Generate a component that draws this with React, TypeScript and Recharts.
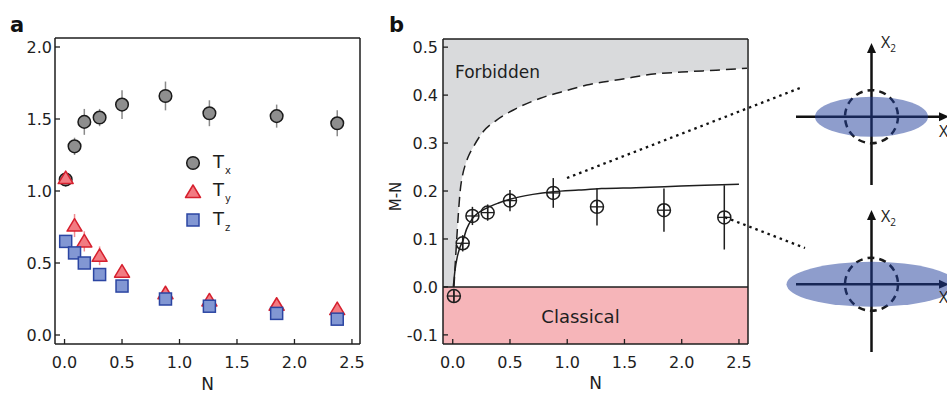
import {
  ComposedChart,
  Scatter,
  Line,
  Area,
  XAxis,
  YAxis,
  ErrorBar,
  ReferenceArea,
  ReferenceLine,
  ReferenceDot,
  Legend,
  Label,
} from "recharts"

const FONT = '"DejaVu Sans", "Liberation Sans", Arial, sans-serif'
const INK = "#1e1e1e"

// mean photon number N, same points in both panels
const N_VALUES = [0.01, 0.087, 0.172, 0.305, 0.5, 0.878, 1.26, 1.845, 2.372]

// panel a: temperatures
const TX = [1.08, 1.31, 1.48, 1.51, 1.6, 1.66, 1.54, 1.52, 1.47]
const TX_ERR = [0.05, 0.06, 0.09, 0.06, 0.1, 0.1, 0.09, 0.08, 0.09]
const TY = [1.09, 0.76, 0.65, 0.55, 0.44, 0.29, 0.24, 0.21, 0.18]
const TY_ERR = [0.03, 0.08, 0.07, 0.065, 0.045, 0.03, 0.02, 0.02, 0.02]
const TZ = [0.65, 0.57, 0.5, 0.42, 0.34, 0.25, 0.2, 0.15, 0.11]
const TZ_ERR = [0.02, 0.02, 0.02, 0.02, 0.02, 0.02, 0.015, 0.015, 0.015]

const X_TICKS = [0, 0.5, 1, 1.5, 2, 2.5]
const A_Y_TICKS = [0, 0.5, 1, 1.5, 2]
const A_X_DOMAIN = [-0.083, 2.57]
const A_Y_DOMAIN = [-0.0625, 2.0625]

// panel b: squeezing M-N
const MN = [-0.019, 0.091, 0.148, 0.155, 0.18, 0.196, 0.167, 0.16, 0.145]
const MN_ERR = [0.012, 0.017, 0.019, 0.017, 0.022, 0.031, 0.039, 0.045, 0.067]

// theory curve (solid line)
const FIT_N = [0.005, 0.02, 0.04, 0.065, 0.09, 0.12, 0.17, 0.21, 0.3, 0.4, 0.5, 0.7, 0.88, 1.1, 1.3, 1.6, 1.85, 2.2, 2.5]
const FIT_MN = [0, 0.035, 0.063, 0.084, 0.097, 0.12, 0.142, 0.152, 0.165, 0.175, 0.183, 0.193, 0.1985, 0.202, 0.205, 0.207, 0.209, 0.212, 0.214]

// forbidden region boundary (dashed line)
const BOUND_N = [0.011, 0.02, 0.035, 0.05, 0.065, 0.085, 0.11, 0.14, 0.18, 0.267, 0.384, 0.53, 0.76, 1.0, 1.17, 1.5, 1.69, 2.0, 2.3, 2.57]
const BOUND_MN = [0, 0.04, 0.1, 0.155, 0.2, 0.232, 0.255, 0.274, 0.292, 0.324, 0.348, 0.369, 0.393, 0.41, 0.421, 0.434, 0.442, 0.448, 0.452, 0.456]

const B_Y_TICKS = [-0.1, 0, 0.1, 0.2, 0.3, 0.4, 0.5]
const B_X_DOMAIN = [-0.085, 2.579]
const B_Y_DOMAIN = [-0.119, 0.517]

const toPoints = (ys: number[], errs: number[]) => N_VALUES.map((n, i) => ({ n, v: ys[i], e: errs[i] }))
const toCurve = (ns: number[], ys: number[]) => ns.map((n, i) => ({ n, v: ys[i] }))

const txData = toPoints(TX, TX_ERR)
const tyData = toPoints(TY, TY_ERR)
const tzData = toPoints(TZ, TZ_ERR)
const mnData = toPoints(MN, MN_ERR)
const fitData = toCurve(FIT_N, FIT_MN)
const boundData = toCurve(BOUND_N, BOUND_MN)
// fill reaches the left edge at M-N = 0 before the boundary starts
const forbiddenFill = [{ n: B_X_DOMAIN[0], v: 0 }, ...boundData]

const AXIS_LINE = { stroke: INK, strokeWidth: 1.5 }
const TICK_LINE = { stroke: INK, strokeWidth: 1.3 }
const TICK_TEXT = { fill: INK, fontSize: 16 }
const fmt = (v: number) => v.toFixed(1)

const circleMark = (cx: number, cy: number) => (
  <circle cx={cx} cy={cy} r={6.3} fill="#8e8e8e" stroke="#1a1a1a" strokeWidth={1.5} />
)
const triMark = (cx: number, cy: number) => (
  <polygon
    points={`${cx},${cy - 7} ${cx - 7.5},${cy + 5.5} ${cx + 7.5},${cy + 5.5}`}
    fill="#f27b82"
    stroke="#d6202e"
    strokeWidth={1.5}
    strokeLinejoin="round"
  />
)
const squareMark = (cx: number, cy: number) => (
  <rect x={cx - 6} y={cy - 6} width={12} height={12} fill="#8297d3" stroke="#2b45a2" strokeWidth={1.5} />
)
const crossCircle = (cx: number, cy: number) => (
  <g>
    <circle cx={cx} cy={cy} r={6.5} fill="none" stroke={INK} strokeWidth={1.5} />
    <line x1={cx - 6.5} x2={cx + 6.5} y1={cy} y2={cy} stroke={INK} strokeWidth={1.3} />
    <line x1={cx} x2={cx} y1={cy - 6.5} y2={cy + 6.5} stroke={INK} strokeWidth={1.3} />
  </g>
)

const LEGEND_ROWS = [
  { sub: "x", icon: circleMark },
  { sub: "y", icon: triMark },
  { sub: "z", icon: squareMark },
]

function TLegend() {
  return (
    <div style={{ fontFamily: FONT, color: INK }}>
      {LEGEND_ROWS.map((row) => (
        <div key={row.sub} style={{ display: "flex", alignItems: "center", height: 28.5 }}>
          <svg width={18} height={18}>{row.icon(9, 9)}</svg>
          <span style={{ marginLeft: 11, fontSize: 18, lineHeight: "18px" }}>
            T<span style={{ fontSize: 10, position: "relative", top: 6, marginLeft: 1 }}>{row.sub}</span>
          </span>
        </div>
      ))}
    </div>
  )
}

function PanelA() {
  return (
    <ComposedChart width={380} height={394} margin={{ top: 37, right: 19, bottom: 0, left: 10 }}>
      <XAxis
        dataKey="n" type="number" domain={A_X_DOMAIN} ticks={X_TICKS} allowDataOverflow interval={0}
        tickFormatter={fmt} height={50} tickSize={-5} tickMargin={18}
        axisLine={AXIS_LINE} tickLine={TICK_LINE} tick={TICK_TEXT}
      >
        <Label value="N" position="insideBottom" offset={4} fill={INK} fontSize={17} />
      </XAxis>
      <XAxis
        xAxisId="top" orientation="top" type="number" domain={A_X_DOMAIN} ticks={X_TICKS} allowDataOverflow
        interval={0} height={1} tickSize={-5} tick={false} axisLine={AXIS_LINE} tickLine={TICK_LINE}
      />
      <YAxis
        dataKey="v" type="number" domain={A_Y_DOMAIN} ticks={A_Y_TICKS} allowDataOverflow interval={0}
        tickFormatter={fmt} width={45} tickSize={-5} tickMargin={8}
        axisLine={AXIS_LINE} tickLine={TICK_LINE} tick={TICK_TEXT}
      />
      <YAxis
        yAxisId="right" orientation="right" type="number" domain={A_Y_DOMAIN} ticks={A_Y_TICKS} allowDataOverflow
        interval={0} width={1} tickSize={-5} tick={false} axisLine={AXIS_LINE} tickLine={TICK_LINE}
      />
      <Legend
        layout="vertical" align="center" verticalAlign="middle" content={TLegend}
        wrapperStyle={{ left: 184, top: 149, width: "auto" }}
      />
      <Scatter data={txData} shape={(p: any) => circleMark(p.cx, p.cy)} isAnimationActive={false}>
        <ErrorBar dataKey="e" direction="y" width={0} stroke="#8a8a8a" strokeWidth={1.5} />
      </Scatter>
      <Scatter data={tyData} shape={(p: any) => triMark(p.cx, p.cy)} isAnimationActive={false}>
        <ErrorBar dataKey="e" direction="y" width={0} stroke="#f08a8f" strokeWidth={1.5} />
      </Scatter>
      <Scatter data={tzData} shape={(p: any) => squareMark(p.cx, p.cy)} isAnimationActive={false}>
        <ErrorBar dataKey="e" direction="y" width={0} stroke="#8a9ad3" strokeWidth={1.5} />
      </Scatter>
    </ComposedChart>
  )
}

function PanelB() {
  return (
    <ComposedChart width={380} height={394} margin={{ top: 38, right: 11, bottom: 0, left: 18 }}>
      <XAxis
        dataKey="n" type="number" domain={B_X_DOMAIN} ticks={X_TICKS} allowDataOverflow interval={0}
        tickFormatter={fmt} height={50} tickSize={-5} tickMargin={18}
        axisLine={AXIS_LINE} tickLine={TICK_LINE} tick={TICK_TEXT}
      >
        <Label value="N" position="insideBottom" offset={5} fill={INK} fontSize={17} />
      </XAxis>
      <XAxis
        xAxisId="top" orientation="top" type="number" domain={B_X_DOMAIN} ticks={X_TICKS} allowDataOverflow
        interval={0} height={1} tickSize={-5} tick={false} axisLine={AXIS_LINE} tickLine={TICK_LINE}
      />
      <YAxis
        dataKey="v" type="number" domain={B_Y_DOMAIN} ticks={B_Y_TICKS} allowDataOverflow interval={0}
        tickFormatter={fmt} width={45} tickSize={-5} tickMargin={10}
        axisLine={AXIS_LINE} tickLine={TICK_LINE} tick={TICK_TEXT}
      >
        <Label value="M-N" angle={-90} position="center" dx={-24.5} dy={5} fill={INK} fontSize={15} />
      </YAxis>
      <YAxis
        yAxisId="right" orientation="right" type="number" domain={B_Y_DOMAIN} ticks={B_Y_TICKS} allowDataOverflow
        interval={0} width={1} tickSize={-5} tick={false} axisLine={AXIS_LINE} tickLine={TICK_LINE}
      />
      <Area
        data={forbiddenFill} dataKey="v" type="monotone" baseValue={B_Y_DOMAIN[1]}
        fill="#d9dadc" fillOpacity={1} stroke="none" isAnimationActive={false}
      />
      <ReferenceArea
        y1={B_Y_DOMAIN[0]} y2={0} fill="#f6b5b9" fillOpacity={1} stroke="none"
        label={{ value: "Classical", position: "center", dx: -15, dy: 1, fill: INK, fontSize: 18 }}
      />
      <ReferenceLine y={0} stroke={INK} strokeWidth={1.5} />
      <ReferenceDot
        x={0.02} y={0.4485} r={0} stroke="none"
        label={{ value: "Forbidden", position: "right", offset: 0, fill: INK, fontSize: 17 }}
      />
      <Line
        data={boundData} dataKey="v" type="monotone" stroke={INK} strokeWidth={1.5}
        strokeDasharray="10 6" dot={false} isAnimationActive={false}
      />
      <Line
        data={fitData} dataKey="v" type="monotone" stroke={INK} strokeWidth={1.5}
        dot={false} isAnimationActive={false}
      />
      <Scatter data={mnData} shape={(p: any) => crossCircle(p.cx, p.cy)} isAnimationActive={false}>
        <ErrorBar dataKey="e" direction="y" width={0} stroke={INK} strokeWidth={1.5} />
      </Scatter>
    </ComposedChart>
  )
}

// phase-space sketches to the right of panel b
const SKETCH_CX = 871.5
const SKETCHES = [
  { cy: 116.7, rx: 56.5, ry: 20, top: 43, bottom: 185, x2Base: 48.3, x1Base: 136.7 },
  { cy: 284.3, rx: 85, ry: 22.5, top: 210, bottom: 352, x2Base: 222, x1Base: 303.3 },
]
const DOTTED = [
  [567, 178, 800, 88],
  [725, 217.3, 805, 248],
]

function Sketches() {
  const cx = SKETCH_CX
  return (
    <svg
      width={947}
      height={394}
      style={{ position: "absolute", left: 0, top: 0, pointerEvents: "none" }}
    >
      <text x={10} y={32} fontFamily={FONT} fontWeight="bold" fontSize={21} fill="#111">a</text>
      <text x={389} y={32} fontFamily={FONT} fontWeight="bold" fontSize={21} fill="#111">b</text>
      {DOTTED.map(([x1, y1, x2, y2], i) => (
        <line key={i} x1={x1} y1={y1} x2={x2} y2={y2} stroke="#111" strokeWidth={2.3} strokeDasharray="2.5 4" />
      ))}
      {SKETCHES.map((s, i) => (
        <g key={i}>
          <line x1={cx} x2={cx} y1={s.top + 6} y2={s.bottom} stroke="#111" strokeWidth={2.5} />
          <polygon points={`${cx},${s.top} ${cx - 4.5},${s.top + 10} ${cx + 4.5},${s.top + 10}`} fill="#111" />
          <line x1={796} x2={943} y1={s.cy} y2={s.cy} stroke="#111" strokeWidth={2.5} />
          <polygon points={`${949},${s.cy} ${939},${s.cy - 4.5} ${939},${s.cy + 4.5}`} fill="#111" />
          <circle cx={cx} cy={s.cy} r={26.5} fill="none" stroke="#1a1a1a" strokeWidth={2.5} strokeDasharray="7 5" />
          <ellipse cx={cx} cy={s.cy} rx={s.rx} ry={s.ry} fill="#1d3b9a" fillOpacity={0.5} />
          <text x={cx + 9.5} y={s.x2Base} fontFamily="'Open Sans', sans-serif" fontSize={16} fill="#222">
            X<tspan fontSize={10} dy={4}>2</tspan>
          </text>
          <text x={939} y={s.x1Base} fontFamily="'Open Sans', sans-serif" fontSize={16} fill="#222">
            X<tspan fontSize={10} dy={4}>1</tspan>
          </text>
        </g>
      ))}
    </svg>
  )
}

export default function App() {
  return (
    <div
      style={{
        position: "absolute", left: 0, top: 0, width: 947, height: 394,
        background: "#fff", fontFamily: FONT, overflow: "hidden",
      }}
    >
      <div style={{ position: "absolute", left: 0, top: 0 }}>
        <PanelA />
      </div>
      <div style={{ position: "absolute", left: 380, top: 0 }}>
        <PanelB />
      </div>
      <Sketches />
    </div>
  )
}
